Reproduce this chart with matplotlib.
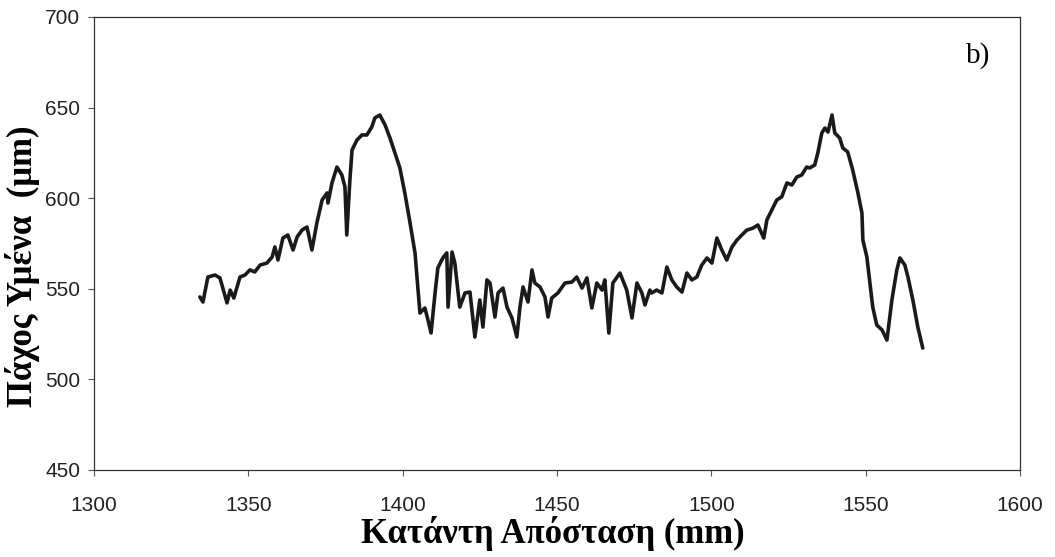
import matplotlib
matplotlib.use("Agg")
from matplotlib import pyplot as plt

# downstream distance (mm) and film thickness (um) along the profile
distance_mm = [
    1334.3, 1335.3, 1336.9, 1339.2, 1340.8, 1343.1, 1344.1, 1345.3, 1347.3, 1348.9,
    1350.5, 1352.1, 1353.8, 1356.0, 1357.7, 1358.6, 1359.6, 1361.2, 1362.8, 1364.5,
    1365.8, 1367.4, 1369.0, 1370.6, 1372.2, 1373.9, 1375.5, 1375.8, 1377.1, 1378.7,
    1380.3, 1381.3, 1381.9, 1382.9, 1383.6, 1385.2, 1386.8, 1388.4, 1390.0, 1391.0,
    1392.6, 1394.3, 1395.9, 1397.5, 1399.1, 1400.7, 1402.4, 1404.0, 1405.6, 1407.2,
    1408.2, 1409.2, 1410.5, 1411.4, 1413.0, 1414.3, 1414.7, 1416.0, 1416.9, 1418.5,
    1420.2, 1421.8, 1423.4, 1425.0, 1426.0, 1427.3, 1428.3, 1429.9, 1430.9, 1432.5,
    1433.8, 1435.4, 1437.0, 1438.0, 1439.0, 1440.6, 1441.9, 1442.8, 1444.5, 1446.1,
    1447.1, 1448.3, 1450.3, 1452.6, 1454.8, 1456.4, 1458.1, 1459.7, 1461.3, 1462.9,
    1464.6, 1465.5, 1466.8, 1468.1, 1470.4, 1472.6, 1474.3, 1475.9, 1477.5, 1478.5,
    1480.1, 1480.7, 1482.3, 1484.0, 1485.6, 1487.2, 1488.8, 1490.5, 1492.1, 1493.7,
    1495.3, 1496.9, 1498.6, 1500.2, 1501.8, 1503.4, 1505.0, 1506.7, 1508.3, 1509.9,
    1511.5, 1513.5, 1515.1, 1517.0, 1518.0, 1519.6, 1521.2, 1522.8, 1524.5, 1526.1,
    1527.7, 1529.3, 1530.9, 1531.9, 1533.5, 1534.5, 1535.8, 1536.8, 1537.8, 1539.1,
    1540.0, 1541.6, 1542.6, 1544.2, 1545.8, 1547.5, 1548.8, 1549.1, 1550.4, 1551.4,
    1552.3, 1553.6, 1555.3, 1556.9, 1558.5, 1560.1, 1561.1, 1562.7, 1563.7, 1565.3,
    1566.9, 1568.5,
]
thickness_um = [
    545.5, 542.7, 556.5, 557.6, 556.0, 542.2, 549.3, 544.9, 556.5, 557.6,
    560.4, 559.3, 563.1, 564.2, 567.5, 573.1, 565.9, 578.0, 579.7, 571.4,
    578.6, 582.4, 584.1, 571.4, 586.3, 599.0, 602.9, 597.3, 608.4, 617.2,
    612.8, 606.2, 579.7, 610.0, 626.6, 632.1, 634.9, 634.9, 639.3, 644.3,
    645.9, 640.4, 633.2, 624.9, 616.7, 602.9, 586.3, 569.8, 536.6, 539.4,
    532.8, 525.6, 547.7, 561.5, 567.0, 569.8, 539.9, 570.3, 564.2, 539.9,
    547.7, 548.2, 523.4, 543.8, 528.9, 554.9, 553.2, 534.4, 547.7, 550.4,
    539.9, 533.9, 523.4, 539.9, 551.0, 542.7, 560.4, 553.2, 551.0, 545.5,
    534.4, 544.9, 547.7, 553.2, 553.7, 556.5, 550.4, 556.0, 539.4, 553.2,
    549.3, 554.9, 525.6, 553.2, 558.7, 549.3, 533.9, 553.2, 547.7, 541.1,
    549.3, 547.7, 549.3, 547.7, 562.0, 554.9, 551.0, 548.2, 558.7, 554.9,
    556.5, 563.1, 567.0, 564.2, 578.0, 571.4, 565.9, 573.1, 576.9, 579.7,
    582.4, 583.5, 585.2, 578.0, 588.0, 593.5, 599.0, 600.7, 608.4, 607.3,
    611.7, 612.8, 617.2, 616.7, 618.3, 624.9, 636.0, 638.7, 636.5, 645.9,
    636.0, 633.2, 627.7, 625.5, 615.6, 602.9, 591.8, 576.9, 567.5, 553.2,
    539.9, 530.0, 527.3, 521.7, 543.8, 560.4, 567.0, 563.1, 556.5, 543.8,
    528.9, 517.3,
]

x_ticks = [1300, 1350, 1400, 1450, 1500, 1550, 1600]
y_ticks = [450, 500, 550, 600, 650, 700]

fig = plt.figure(figsize=(10.55, 5.57), dpi=100)
ax = fig.add_axes([0.0891, 0.1562, 0.8777, 0.8133])

ax.plot(distance_mm, thickness_um, color="#1a1a1a", lw=2.6,
        solid_joinstyle="round", solid_capstyle="round")

ax.set_xlim(1300, 1600)
ax.set_ylim(450, 700)
ax.set_xticks(x_ticks)
ax.set_yticks(y_ticks)

tick_font = {"family": "Liberation Sans", "size": 15, "color": "#222222"}
ax.set_xticklabels([str(t) for t in x_ticks], **tick_font)
ax.set_yticklabels([str(t) for t in y_ticks], **tick_font)
ax.tick_params(axis="both", direction="out", length=4, width=0.8,
               color="#555555")
ax.tick_params(axis="x", pad=15)
ax.tick_params(axis="y", pad=6)

for side in ["left", "bottom", "top", "right"]:
    ax.spines[side].set_linewidth(0.9)
    ax.spines[side].set_color("#333333")

label_font = {"family": "Liberation Serif", "size": 25, "weight": "bold"}
ax.set_xlabel("Κατάντη Απόσταση (mm)", **label_font)
ax.set_ylabel("Πάχος Υμένα  (μm)", **label_font)
ax.xaxis.set_label_coords(0.495, -0.102)
ax.yaxis.set_label_coords(-0.058, 0.45)

ax.text(0.955, 0.916, "b)", transform=ax.transAxes, ha="center", va="center",
        family="Liberation Serif", size=21)

fig.savefig("out.png", dpi=100)
